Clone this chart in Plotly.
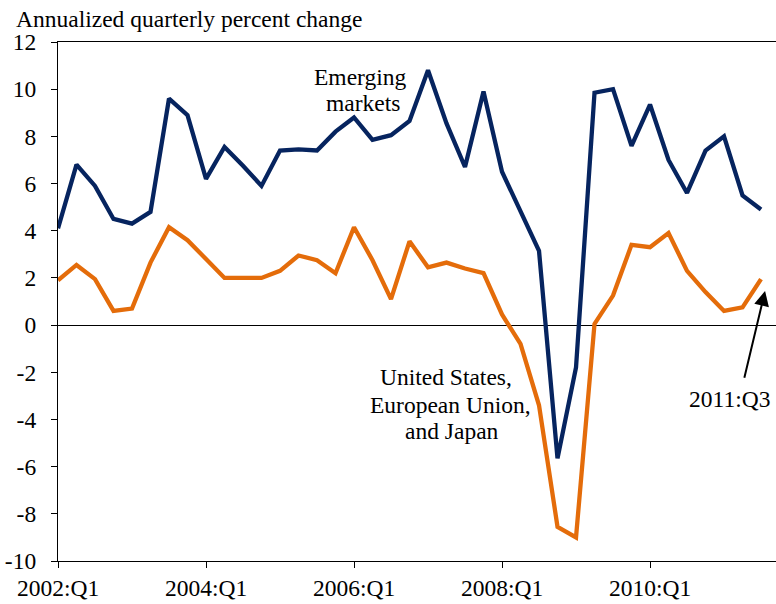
import plotly.graph_objects as go

# ---- data ----
quarters = [f"{y}:Q{q}" for y in range(2002, 2012) for q in range(1, 5)][:39]
emerging = [4.1, 6.8, 5.9, 4.5, 4.3, 4.8, 9.6, 8.9, 6.2, 7.55,
            6.75, 5.9, 7.4, 7.45, 7.4, 8.2, 8.8, 7.85, 8.05, 8.65,
            10.8, 8.55, 6.7, 9.9, 6.5, 4.85, 3.15, -5.65, -1.8, 9.85,
            10.0, 7.6, 9.35, 7.0, 5.6, 7.4, 8.0, 5.5, 4.9]
advanced = [1.9, 2.55, 1.95, 0.6, 0.7, 2.65, 4.15, 3.6, 2.8, 2.0,
            2.0, 2.0, 2.3, 2.95, 2.75, 2.2, 4.15, 2.75, 1.1, 3.55,
            2.45, 2.65, 2.4, 2.2, 0.45, -0.8, -3.4, -8.55, -9.0, 0.05,
            1.25, 3.4, 3.3, 3.9, 2.3, 1.4, 0.6, 0.75, 1.95]
tick_labels = ["2002:Q1", "2004:Q1", "2006:Q1", "2008:Q1", "2010:Q1"]
y_ticks = list(range(-10, 13, 2))
y_tick_text = [str(v) for v in y_ticks]  # plain hyphen minus, as in the reference

NAVY = "#06245f"
ORANGE = "#e46c0a"
FONT = "Liberation Serif, Times New Roman, serif"
FS = 23.5

fig = go.Figure()
fig.add_trace(go.Scatter(x=quarters, y=emerging, mode="lines",
                         line=dict(color=NAVY, width=4.3), name="Emerging markets"))
fig.add_trace(go.Scatter(x=quarters, y=advanced, mode="lines",
                         line=dict(color=ORANGE, width=4.3),
                         name="United States, European Union, and Japan"))

fig.update_layout(
    width=776, height=604,
    margin=dict(l=58, r=0, t=41.7, b=42.5, autoexpand=False),
    paper_bgcolor="white", plot_bgcolor="white",
    showlegend=False,
    font=dict(family=FONT, size=FS, color="black"),
)
fig.update_xaxes(
    type="category", range=[0, 38.81], automargin=False,
    tickmode="array", tickvals=tick_labels, ticktext=tick_labels,
    ticks="outside", ticklen=6, tickwidth=1.2, tickcolor="black",
    showline=True, linecolor="black", linewidth=1.3, mirror=True,
    showgrid=False, zeroline=False,
    tickfont=dict(family=FONT, size=FS, color="black"),
    ticklabelstandoff=0,
)
fig.update_yaxes(
    range=[-10, 12], automargin=False,
    tickmode="array", tickvals=y_ticks, ticktext=y_tick_text,
    ticks="outside", ticklen=6, tickwidth=1.2, tickcolor="black",
    showline=True, linecolor="black", linewidth=1.3,
    showgrid=False, zeroline=True, zerolinecolor="black", zerolinewidth=1.2,
    tickfont=dict(family=FONT, size=FS, color="black"),
    ticklabelstandoff=10,
)

def txt(s, x, y, xanchor="center"):
    fig.add_annotation(text=s, x=x, y=y, xref="x", yref="y", showarrow=False,
                       xanchor=xanchor, yanchor="middle",
                       font=dict(family=FONT, size=FS, color="black"))

txt("Emerging", 16.35, 10.5)
txt("markets", 16.5, 9.42)
txt("United States,", 20.97, -2.2)
txt("European Union,", 21.19, -3.38)
txt("and Japan", 21.3, -4.5)
txt("2011:Q3", 36.32, -3.13)

# arrow pointing at last observation
fig.add_annotation(x=38.22, y=1.45, ax=37.08, ay=-2.3, xref="x", yref="y",
                   axref="x", ayref="y", text="", showarrow=True,
                   arrowhead=2, arrowsize=1.5, arrowwidth=2, arrowcolor="black")

fig.add_annotation(text="Annualized quarterly percent change", xref="paper", yref="paper",
                   x=0, xshift=-44, y=1 + (41.7 - 19) / 519.8,
                   xanchor="left", yanchor="middle", showarrow=False,
                   font=dict(family=FONT, size=FS, color="black"))

fig.write_html("out.html", config={"displayModeBar": False},
               post_script="document.body.style.margin='0';document.body.style.padding='0';"
                           "document.documentElement.style.overflow='hidden';")
